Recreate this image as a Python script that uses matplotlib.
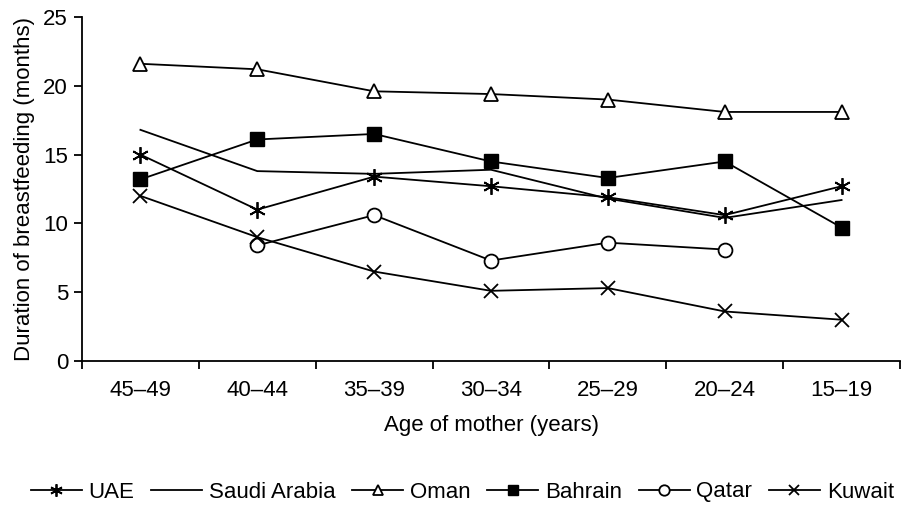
import matplotlib
matplotlib.use('Agg')

import matplotlib.pyplot as plt

plt.rcParams['font.family'] = ['Liberation Sans', 'DejaVu Sans']

ages = ['45–49', '40–44', '35–39', '30–34', '25–29', '20–24', '15–19']

uae = [15.0, 11.0, 13.4, 12.7, 11.9, 10.6, 12.7]
saudi = [16.8, 13.8, 13.6, 13.9, 11.8, 10.4, 11.7]
oman = [21.6, 21.2, 19.6, 19.4, 19.0, 18.1, 18.1]
bahrain = [13.2, 16.1, 16.5, 14.5, 13.3, 14.5, 9.7]
qatar = [None, 8.4, 10.6, 7.3, 8.6, 8.1, None]
kuwait = [12.0, 9.0, 6.5, 5.1, 5.3, 3.6, 3.0]

fs = 16

fig = plt.figure(figsize=(9.01, 5.08), dpi=100)
ax = fig.add_axes([82 / 901, 1 - 361 / 508, 818 / 901, 344 / 508])

x = list(range(len(ages)))
qx = [i for i, v in enumerate(qatar) if v is not None]
qy = [v for v in qatar if v is not None]

lw = 1.3
ax.plot(x, uae, color='black', lw=lw, marker=(6, 2, 0), ms=12, mew=1.3, label='UAE')
ax.plot(x, saudi, color='black', lw=lw, label='Saudi Arabia')
ax.plot(x, oman, color='black', lw=lw, marker='^', ms=10, mfc='white', mew=1.3, label='Oman')
ax.plot(x, bahrain, color='black', lw=lw, marker='s', ms=10, mfc='black', label='Bahrain')
ax.plot(qx, qy, color='black', lw=lw, marker='o', ms=10, mfc='white', mew=1.3, label='Qatar')
ax.plot(x, kuwait, color='black', lw=lw, marker='x', ms=10, mew=1.3, label='Kuwait')

ax.set_xlim(-0.5, len(ages) - 0.5)
ax.set_ylim(0, 25)
ax.set_yticks([0, 5, 10, 15, 20, 25])
ax.set_xticks(x)
ax.set_xticklabels(ages)
ax.set_xticks([i - 0.5 for i in range(len(ages) + 1)], minor=True)
ax.tick_params(axis='x', which='major', length=0, pad=14, labelsize=fs)
ax.tick_params(axis='x', which='minor', length=6, width=1.3, direction='out')
ax.tick_params(axis='y', length=6, width=1.3, direction='out', labelsize=fs, pad=4)

for s in ['top', 'right']:
    ax.spines[s].set_visible(False)
for s in ['left', 'bottom']:
    ax.spines[s].set_linewidth(1.3)

ax.set_xlabel('Age of mother (years)', fontsize=fs, labelpad=10)
ax.set_ylabel('Duration of breastfeeding (months)', fontsize=fs, labelpad=6)

fig.legend(loc='center', bbox_to_anchor=(0.513, 1 - 492 / 508), ncol=6, frameon=False,
           fontsize=fs, handlelength=2.3, handletextpad=0.3, columnspacing=0.75,
           borderpad=0, markerscale=0.75)

fig.savefig('out.png', dpi=100)
plt.close(fig)
